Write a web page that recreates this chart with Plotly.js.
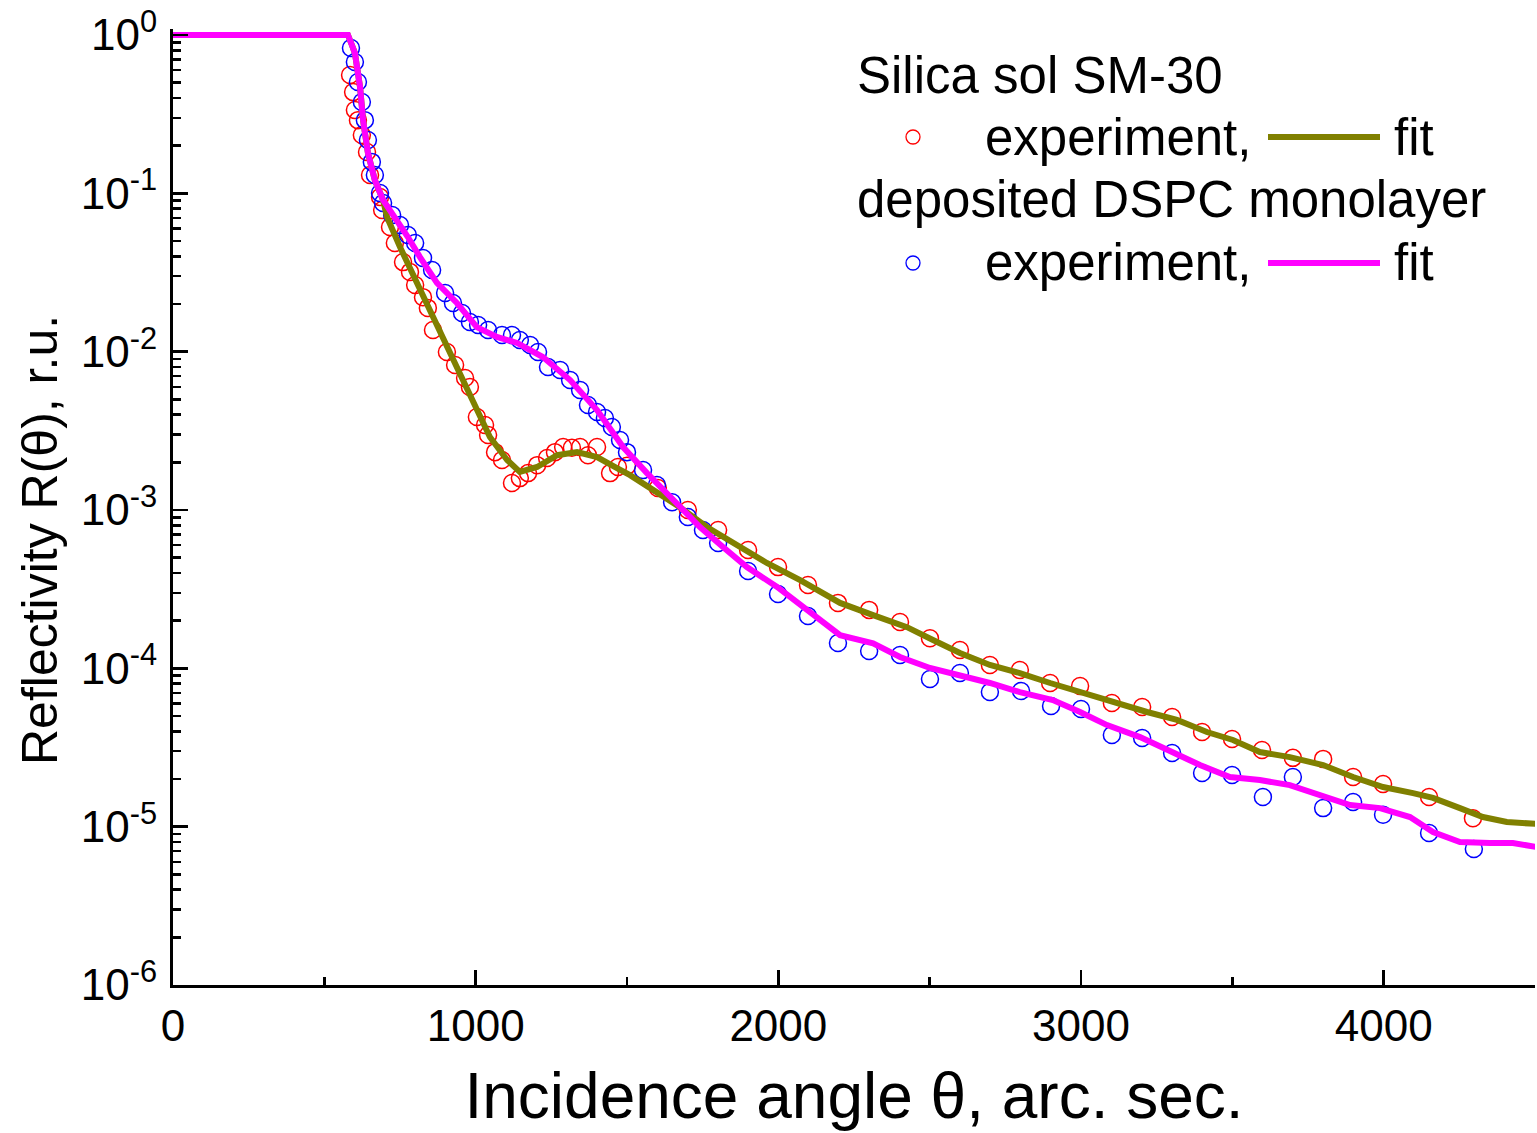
<!DOCTYPE html>
<html>
<head>
<meta charset="utf-8">
<script src="https://cdn.plot.ly/plotly-3.0.1.min.js"></script>
<style>html,body{margin:0;padding:0;background:#fff;}#chart{width:1537px;height:1133px;}</style>
</head>
<body>
<div id="chart"></div>
<script>
// ---- Data ----
// Silica sol SM-30, experiment
var smExpX = [585,595,601,611,624,641,651,684,691,717,733,760,783,800,826,842,859,905,932,965,981,1004,1031,1041,1064,1087,1120,1146,1173,1203,1236,1262,1289,1318,1345,1371,1401,1444,1470,1500,1602,1701,1801,1900,1999,2098,2197,2300,2402,2501,2600,2699,2798,2898,2997,3102,3202,3301,3400,3499,3598,3700,3800,3899,3998,4150,4295];
var smExpY = [0.559,0.436,0.336,0.290,0.2335,0.1824,0.1305,0.0948,0.0785,0.0613,0.0486,0.0368,0.0319,0.0264,0.0221,0.0189,0.0137,0.00995,0.00824,0.00682,0.00598,0.00387,0.00344,0.00298,0.00232,0.00207,0.00148,0.00159,0.00171,0.00192,0.00213,0.00232,0.00250,0.00247,0.00250,0.00222,0.00250,0.00171,0.00187,0.00190,0.001377,0.001000,0.000748,0.000559,0.000436,0.000336,0.000259,0.000234,0.000196,0.000155,0.0001305,0.000105,0.0000975,0.0000808,0.0000773,0.0000604,0.0000570,0.0000493,0.0000396,0.0000358,0.0000305,0.0000272,0.0000268,0.0000206,0.0000186,0.0000154,0.0000113];

// deposited DSPC monolayer, experiment
var dspcExpX = [588,601,611,624,634,644,657,667,684,694,724,750,776,800,826,856,899,925,955,981,1008,1041,1087,1120,1146,1180,1206,1239,1279,1312,1345,1371,1401,1427,1450,1477,1500,1553,1599,1649,1701,1751,1801,1900,1999,2098,2197,2300,2402,2501,2600,2699,2802,2901,3000,3102,3202,3301,3400,3499,3601,3700,3800,3899,3998,4150,4298];
var dspcExpY = [0.828,0.675,0.505,0.3775,0.290,0.217,0.158,0.1305,0.1005,0.0869,0.0730,0.0631,0.0546,0.0486,0.0391,0.0328,0.0235,0.0203,0.01754,0.01538,0.01473,0.01371,0.01274,0.01274,0.01185,0.01102,0.00995,0.0080,0.00766,0.00662,0.00573,0.00460,0.00416,0.00381,0.00334,0.00277,0.00232,0.00179,0.00144,0.00112,0.000903,0.000748,0.000619,0.000412,0.000295,0.000214,0.0001445,0.0001286,0.0001213,0.0000857,0.0000934,0.0000708,0.0000719,0.0000578,0.0000553,0.0000379,0.0000363,0.0000292,0.0000218,0.0000212,0.0000154,0.0000206,0.0000131,0.0000143,0.0000119,0.00000912,0.00000723];

// Silica sol SM-30, fit
var smFitX = [0,578,591,601,618,628,644,667,694,707,750,806,872,938,991,1047,1104,1146,1203,1269,1335,1401,1467,1510,1586,1675,1764,1850,1962,2072,2204,2313,2425,2511,2600,2699,2798,2898,2997,3106,3218,3317,3416,3502,3591,3690,3800,3899,3998,4097,4163,4252,4328,4407,4507];
var smFitY = [1,1,0.865,0.769,0.470,0.290,0.180,0.121,0.0908,0.0709,0.0458,0.0272,0.0143,0.0080,0.00474,0.00289,0.00207,0.00174,0.00187,0.00222,0.00232,0.00216,0.00184,0.00166,0.00134,0.00104,0.000781,0.000619,0.000463,0.000361,0.000259,0.000217,0.000182,0.000151,0.000125,0.000105,0.0000934,0.0000808,0.0000708,0.0000604,0.0000530,0.0000472,0.0000396,0.0000353,0.0000296,0.0000275,0.0000245,0.0000206,0.0000178,0.0000163,0.0000152,0.0000131,0.0000115,0.0000107,0.0000104];

// deposited DSPC monolayer, fit
var dspcFitX = [0,578,591,601,618,628,644,667,694,740,776,816,872,938,1004,1070,1137,1222,1312,1401,1487,1566,1652,1741,1817,1896,1996,2095,2204,2313,2402,2501,2600,2699,2798,2907,2997,3086,3195,3304,3393,3492,3591,3690,3790,3889,3988,4087,4163,4252,4351,4427,4507];
var dspcFitY = [1,1,0.865,0.769,0.470,0.290,0.180,0.121,0.0908,0.0679,0.0530,0.0396,0.0272,0.0203,0.0143,0.0124,0.01135,0.00925,0.00662,0.00428,0.00250,0.00171,0.001157,0.000781,0.000584,0.000436,0.000327,0.000234,0.000162,0.000144,0.000118,0.0001005,0.0000908,0.0000808,0.0000708,0.0000631,0.0000530,0.0000438,0.0000368,0.0000296,0.0000245,0.0000206,0.0000197,0.0000183,0.0000158,0.0000137,0.0000131,0.0000115,0.00000925,0.0000080,0.00000788,0.00000788,0.00000743];

// Axis ticks
var yTickVals = [1e-6,1e-5,1e-4,1e-3,1e-2,1e-1,1];
var yTickText = ['10<sup>-6</sup>','10<sup>-5</sup>','10<sup>-4</sup>','10<sup>-3</sup>','10<sup>-2</sup>','10<sup>-1</sup>','10<sup>0</sup>'];
var xTickVals = [0,1000,2000,3000,4000];
var xTickText = ['0','1000','2000','3000','4000'];

// Titles and legend labels
var xTitle = 'Incidence angle θ, arc. sec.';
var yTitle = 'Reflectivity R(θ), r.u.';
var legendGroup1 = 'Silica sol SM-30';
var legendGroup2 = 'deposited DSPC monolayer';
var legendExp = 'experiment,';
var legendFit = 'fit';

// ---- Drawing ----
var FONT = 'Arial, "Liberation Sans", sans-serif';
var minorY = [];
for (var e = -6; e < 0; e++) { for (var m = 2; m <= 9; m++) { minorY.push(m * Math.pow(10, e)); } }

var traces = [
  {x: smExpX, y: smExpY, mode: 'markers', type: 'scatter', showlegend: false,
   marker: {symbol: 'circle-open', size: 17, color: '#ff0000', line: {width: 1.5, color: '#ff0000'}}},
  {x: dspcExpX, y: dspcExpY, mode: 'markers', type: 'scatter', showlegend: false,
   marker: {symbol: 'circle-open', size: 17, color: '#0000ff', line: {width: 1.5, color: '#0000ff'}}},
  {x: smFitX, y: smFitY, mode: 'lines', type: 'scatter', showlegend: false,
   line: {color: '#808000', width: 6, shape: 'linear'}},
  {x: dspcFitX, y: dspcFitY, mode: 'lines', type: 'scatter', showlegend: false,
   line: {color: '#ff00ff', width: 6, shape: 'linear'}}
];

var L = 173, R = 2, T = 29, B = 148;
var PW = 1537 - L - R, PH = 1133 - T - B;
function px(xp) { return (xp - L) / PW; }
function py(yp) { return (1133 - B - yp) / PH; }

var legFont = {family: FONT, size: 51, color: '#000'};
var annotations = [
  {xref: 'paper', yref: 'paper', x: px(855), y: py(75), xanchor: 'left', yanchor: 'middle', text: legendGroup1, showarrow: false, font: legFont},
  {xref: 'paper', yref: 'paper', x: px(983), y: py(137), xanchor: 'left', yanchor: 'middle', text: legendExp, showarrow: false, font: legFont},
  {xref: 'paper', yref: 'paper', x: px(1392), y: py(137), xanchor: 'left', yanchor: 'middle', text: legendFit, showarrow: false, font: legFont},
  {xref: 'paper', yref: 'paper', x: px(855), y: py(200), xanchor: 'left', yanchor: 'middle', text: legendGroup2, showarrow: false, font: legFont},
  {xref: 'paper', yref: 'paper', x: px(983), y: py(263), xanchor: 'left', yanchor: 'middle', text: legendExp, showarrow: false, font: legFont},
  {xref: 'paper', yref: 'paper', x: px(1392), y: py(263), xanchor: 'left', yanchor: 'middle', text: legendFit, showarrow: false, font: legFont},
  {xref: 'paper', yref: 'paper', x: px(40), y: py(540), xanchor: 'center', yanchor: 'middle', textangle: -90, text: yTitle, showarrow: false, font: {family: FONT, size: 50, color: '#000'}}
];
var r = 7;
var shapes = [
  {type: 'circle', xref: 'paper', yref: 'paper', x0: px(913 - r), x1: px(913 + r), y0: py(137 + r), y1: py(137 - r), line: {color: '#ff0000', width: 1.3}},
  {type: 'line', xref: 'paper', yref: 'paper', x0: px(1268), x1: px(1380), y0: py(137), y1: py(137), line: {color: '#808000', width: 6}},
  {type: 'circle', xref: 'paper', yref: 'paper', x0: px(913 - r), x1: px(913 + r), y0: py(263 + r), y1: py(263 - r), line: {color: '#0000ff', width: 1.3}},
  {type: 'line', xref: 'paper', yref: 'paper', x0: px(1268), x1: px(1380), y0: py(263), y1: py(263), line: {color: '#ff00ff', width: 6}}
];

var layout = {
  width: 1537, height: 1133,
  margin: {l: L, r: R, t: T, b: B, pad: 0},
  paper_bgcolor: '#ffffff', plot_bgcolor: '#ffffff',
  showlegend: false,
  font: {family: FONT, color: '#000'},
  xaxis: {
    range: [0, 4500], showgrid: false, zeroline: false,
    showline: true, linecolor: '#000', linewidth: 3, mirror: false,
    ticks: 'inside', ticklen: 15, tickwidth: 2.5, tickcolor: '#000',
    tickmode: 'array', tickvals: xTickVals, ticktext: xTickText,
    tickfont: {family: FONT, size: 44, color: '#000'},
    ticklabelstandoff: 0,
    minor: {tickmode: 'array', tickvals: [500, 1500, 2500, 3500, 4500], ticks: 'inside', ticklen: 8, tickwidth: 2.5, tickcolor: '#000', showgrid: false},
    title: {text: xTitle, font: {family: FONT, size: 64, color: '#000'}, standoff: 25}
  },
  yaxis: {
    type: 'log', range: [-6, 0.038], showgrid: false, zeroline: false,
    showline: true, linecolor: '#000', linewidth: 3, mirror: false,
    ticks: 'inside', ticklen: 15, tickwidth: 2.5, tickcolor: '#000',
    tickmode: 'array', tickvals: yTickVals, ticktext: yTickText,
    tickfont: {family: FONT, size: 44, color: '#000'},
    ticklabelstandoff: 4,
    minor: {tickmode: 'array', tickvals: minorY, ticks: 'inside', ticklen: 8, tickwidth: 2.5, tickcolor: '#000', showgrid: false}
  },
  annotations: annotations,
  shapes: shapes
};

Plotly.newPlot('chart', traces, layout, {displayModeBar: false, staticPlot: true});
</script>
</body>
</html>
